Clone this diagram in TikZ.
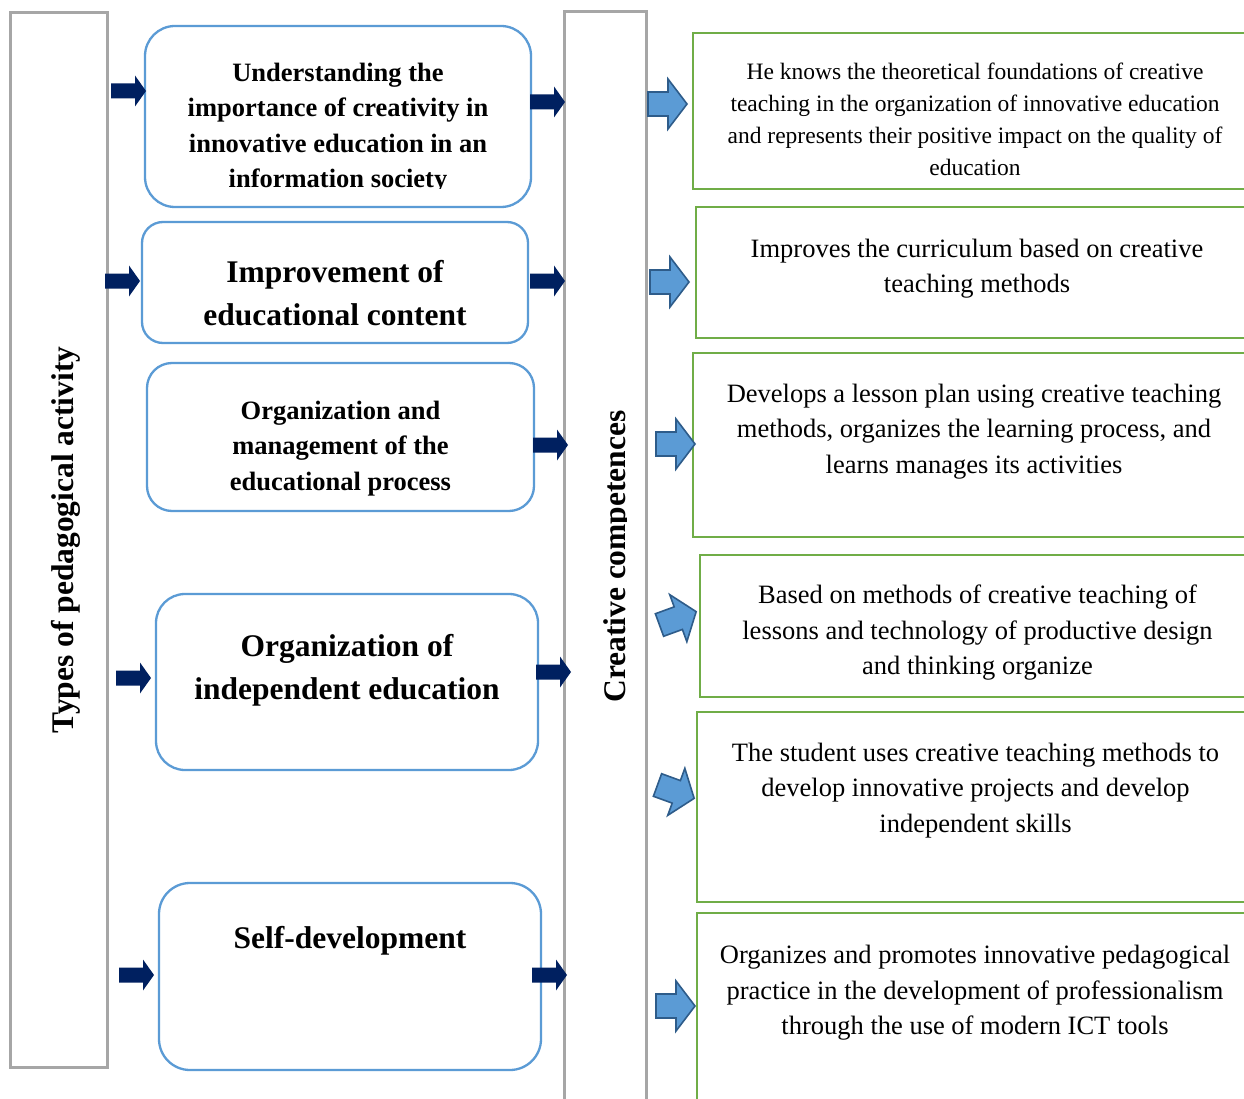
\documentclass[tikz,border=0pt]{standalone}
\usepackage{fontspec}
\setmainfont{Liberation Serif}
\definecolor{grayline}{HTML}{A6A6A6}
\definecolor{boxblue}{HTML}{5B9BD5}
\definecolor{navy}{HTML}{002060}
\definecolor{arrowfill}{HTML}{5B9BD5}
\definecolor{arrowedge}{HTML}{2E5C8A}
\definecolor{boxgreen}{HTML}{70AD47}
\begin{document}
\begin{tikzpicture}[x=1pt,y=-1pt,
  graybox/.style={draw=grayline, line width=3pt, inner sep=0pt, rectangle},
  bluebox/.style={draw=boxblue, line width=2.3pt, inner sep=0pt, rectangle, rounded corners=#1},
  greenbox/.style={draw=boxgreen, line width=2.5pt, inner sep=0pt, rectangle},
  boldtext/.style={font=\bfseries\fontsize{26.5}{35.5}\selectfont, align=center, inner sep=0pt},
  bigbold/.style={font=\bfseries\fontsize{31.5}{43}\selectfont, align=center, inner sep=0pt},
  smalltext/.style={font=\fontsize{23.5}{32}\selectfont, align=center, inner sep=0pt},
  bodytext/.style={font=\fontsize{26.5}{35.5}\selectfont, align=center, inner sep=0pt},
  sidetext/.style={font=\bfseries\fontsize{31.5}{36}\selectfont, rotate=90, inner sep=0pt},
  navyarrow/.pic={\fill[navy] (0,-7.5) -- (24,-7.5) -- (24,-15.5) -- (35,0) -- (24,15.5) -- (24,7.5) -- (0,7.5) -- cycle;},
  bluearrow/.pic={\filldraw[fill=arrowfill, draw=arrowedge, line width=1.6pt, line join=miter]
      (0,-12) -- (20,-12) -- (20,-25) -- (39,0) -- (20,25) -- (20,12) -- (0,12) -- cycle;},
]
\useasboundingbox (0,0) rectangle (1244,1099);
\clip (0,0) rectangle (1244,1099);
\fill[white] (0,0) rectangle (1244,1099);

% side columns
\node[graybox, minimum width=97pt, minimum height=1054pt] (typesbox) at (58.5,540) {};
\node[graybox, minimum width=82pt, minimum height=1108pt] (compbox) at (605,566) {};

\node[sidetext] (typestext) at (65.5,540) {Types of pedagogical activity};
\begin{scope}
  \clip (560,380) rectangle (626.5,720);
  \node[sidetext] (comptext) at (618,556.5) {Creative competences};
\end{scope}

% left rounded boxes
\node[bluebox=30pt, minimum width=386pt, minimum height=181pt] (b1) at (338,116.5) {};
\node[bluebox=21pt, minimum width=386pt, minimum height=121pt] (b2) at (335,282.5) {};
\node[bluebox=25pt, minimum width=387pt, minimum height=148pt] (b3) at (340.5,437) {};
\node[bluebox=29pt, minimum width=382pt, minimum height=176pt] (b4) at (347,682) {};
\node[bluebox=31pt, minimum width=382pt, minimum height=187pt] (b5) at (350,976.5) {};

\begin{scope}
  \clip (150,30) rectangle (525,188.5);
  \node[boldtext] (t1) at (338,128) {Understanding the\\importance of creativity in\\innovative education in an\\information society};
\end{scope}
\node[bigbold] (t2) at (335,293) {Improvement of\\educational content};
\node[boldtext] (t3) at (340.5,448.5) {Organization and\\management of the\\educational process};
\node[bigbold] (t4) at (347,670.5) {Organization of\\independent education};
\node[bigbold] (t5) at (350,941) {Self-development};

% right green boxes (open to the right edge)
\node[greenbox, minimum width=567pt, minimum height=156pt] (g1) at (976.5,111) {};
\node[greenbox, minimum width=564pt, minimum height=131pt] (g2) at (978,272.5) {};
\node[greenbox, minimum width=567pt, minimum height=184pt] (g3) at (976.5,445) {};
\node[greenbox, minimum width=560pt, minimum height=142pt] (g4) at (980,626) {};
\node[greenbox, minimum width=563pt, minimum height=190pt] (g5) at (978.5,807) {};
\node[greenbox, minimum width=563pt, minimum height=207pt] (g6) at (978.5,1016.5) {};

\node[smalltext] (r1) at (975,119.5) {He knows the theoretical foundations of creative\\teaching in the organization of innovative education\\and represents their positive impact on the quality of\\education};
\node[bodytext] (r2) at (977,268.5) {Improves the curriculum based on creative\\teaching methods};
\node[bodytext] (r3) at (974,431.5) {Develops a lesson plan using creative teaching\\methods, organizes the learning process, and\\learns manages its activities};
\node[bodytext] (r4) at (977.5,633) {Based on methods of creative teaching of\\lessons and technology of productive design\\and thinking organize};
\node[bodytext] (r5) at (975.5,790.5) {The student uses creative teaching methods to\\develop innovative projects and develop\\independent skills};
\node[bodytext] (r6) at (975,992.7) {Organizes and promotes innovative pedagogical\\practice in the development of professionalism\\through the use of modern ICT tools};

% navy arrows
\pic at (111,91) {navyarrow};
\pic at (105,281) {navyarrow};
\pic at (116,678) {navyarrow};
\pic at (119,975) {navyarrow};
\pic at (530,102) {navyarrow};
\pic at (530,281) {navyarrow};
\pic at (533,445) {navyarrow};
\pic at (536,672) {navyarrow};
\pic at (532,975) {navyarrow};

% blue block arrows
\pic at (648,104) {bluearrow};
\pic at (650,282) {bluearrow};
\pic at (656,444) {bluearrow};
\pic[rotate=20] at (659.5,625) {bluearrow};
\pic[rotate=-20] at (657.5,785) {bluearrow};
\pic at (656,1006) {bluearrow};
\end{tikzpicture}
\end{document}
